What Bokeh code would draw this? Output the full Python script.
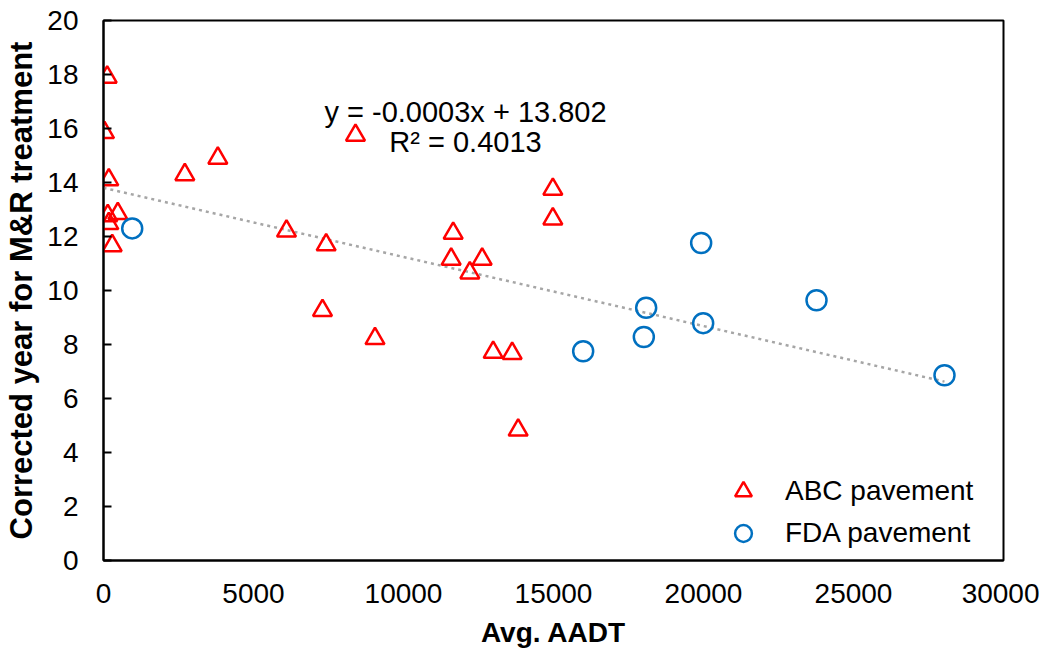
from bokeh.plotting import figure
from bokeh.models import Range1d, Label, Legend, LegendItem, FixedTicker, ColumnDataSource
from bokeh.transform import dodge
from bokeh.embed import file_html
from bokeh.resources import INLINE

# ABC pavement (triangles)
abc_x = [123, 33, 177, 143, 477, 177, 290, 2711, 3811, 6100, 7422, 7300, 9050,
         8400, 14978, 14978, 11656, 11589, 12622, 12211, 12989, 13622, 13822]
abc_y = [18.0, 15.95, 14.2, 12.87, 12.95, 12.58, 11.76, 14.39, 15.0, 12.3, 11.79, 9.36, 8.32,
         15.85, 13.85, 12.75, 12.22, 11.26, 11.26, 10.75, 7.81, 7.77, 4.93]
# FDA pavement (circles)
fda_x = [957, 15989, 18089, 18011, 19922, 19989, 23767, 28033]
fda_y = [12.3, 7.75, 9.36, 8.28, 11.76, 8.79, 9.64, 6.86]

# linear trend line as drawn (y = -0.0003x + 13.802, R^2 = 0.4013)
trend_intercept = 13.802
trend_slope = -0.000256
trend_x = [0, 28033]

x_ticks = [0, 5000, 10000, 15000, 20000, 25000, 30000]
y_ticks = [0, 2, 4, 6, 8, 10, 12, 14, 16, 18, 20]

FONT = "Liberation Sans"
FS = "28px"

p = figure(width=1039, height=650, output_backend="svg", toolbar_location=None,
           x_range=Range1d(0, 30000), y_range=Range1d(0, 20),
           min_border_left=103, min_border_right=36, min_border_top=20, min_border_bottom=86)
p.xgrid.visible = False
p.ygrid.visible = False
p.outline_line_color = "black"
p.outline_line_width = 2
p.background_fill_color = "white"
p.border_fill_color = "white"

for ax in (p.xaxis, p.yaxis):
    ax.axis_line_color = "black"
    ax.axis_line_width = 2
    ax.major_label_text_font = FONT
    ax.major_label_text_font_size = FS
    ax.major_label_text_color = "black"
    ax.axis_label_text_font = FONT
    ax.axis_label_text_font_size = FS
    ax.axis_label_text_font_style = "bold"
    ax.axis_label_text_color = "black"
    ax.minor_tick_line_color = None

p.xaxis.ticker = FixedTicker(ticks=x_ticks)
p.yaxis.ticker = FixedTicker(ticks=y_ticks)
p.xaxis.major_tick_line_color = None
p.xaxis.major_tick_out = 0
p.xaxis.major_label_standoff = 23
p.xaxis.axis_label = "Avg. AADT"
p.xaxis.axis_label_standoff = 11

p.yaxis.major_tick_in = 8
p.yaxis.major_tick_out = 0
p.yaxis.major_tick_line_width = 2
p.yaxis.major_tick_line_color = "black"
p.yaxis.major_label_standoff = 25
p.yaxis.axis_label = "Corrected year for M&R treatment"
p.yaxis.axis_label_text_font_size = "31px"
p.yaxis.axis_label_standoff = 5

# trend line
trend_y = [trend_intercept + trend_slope * xv for xv in trend_x]
p.line(trend_x, trend_y, line_color="#A6A6A6", line_width=2.5, line_dash="3 4")

abc_src = ColumnDataSource(dict(x=abc_x, y=abc_y))
fda_src = ColumnDataSource(dict(x=fda_x, y=fda_y))
r_abc = p.scatter(x="x", y=dodge("y", -0.1, range=p.y_range), source=abc_src, marker="triangle",
                  size=19, fill_color=None, line_color="#FF0000", line_width=2.5)
r_fda = p.scatter(x="x", y="y", source=fda_src, marker="circle",
                  size=20, fill_color=None, line_color="#0070C0", line_width=2.5)

leg = Legend(items=[LegendItem(label="ABC pavement", renderers=[r_abc]),
                    LegendItem(label="FDA pavement", renderers=[r_fda])],
             location=(618, 6), glyph_width=44, glyph_height=42, spacing=0,
             label_standoff=20, padding=0, margin=0,
             border_line_color=None, background_fill_alpha=0,
             label_text_font=FONT, label_text_font_size=FS, label_text_color="black")
p.add_layout(leg)

p.add_layout(Label(x=12067, y=16.62, text="y = -0.0003x + 13.802", text_align="center",
                   text_baseline="middle", text_font=FONT, text_font_size="29px", text_color="black"))
p.add_layout(Label(x=12067, y=15.5, text="R² = 0.4013", text_align="center",
                   text_baseline="middle", text_font=FONT, text_font_size="29px", text_color="black"))

open("out.html", "w").write(file_html(p, INLINE))
